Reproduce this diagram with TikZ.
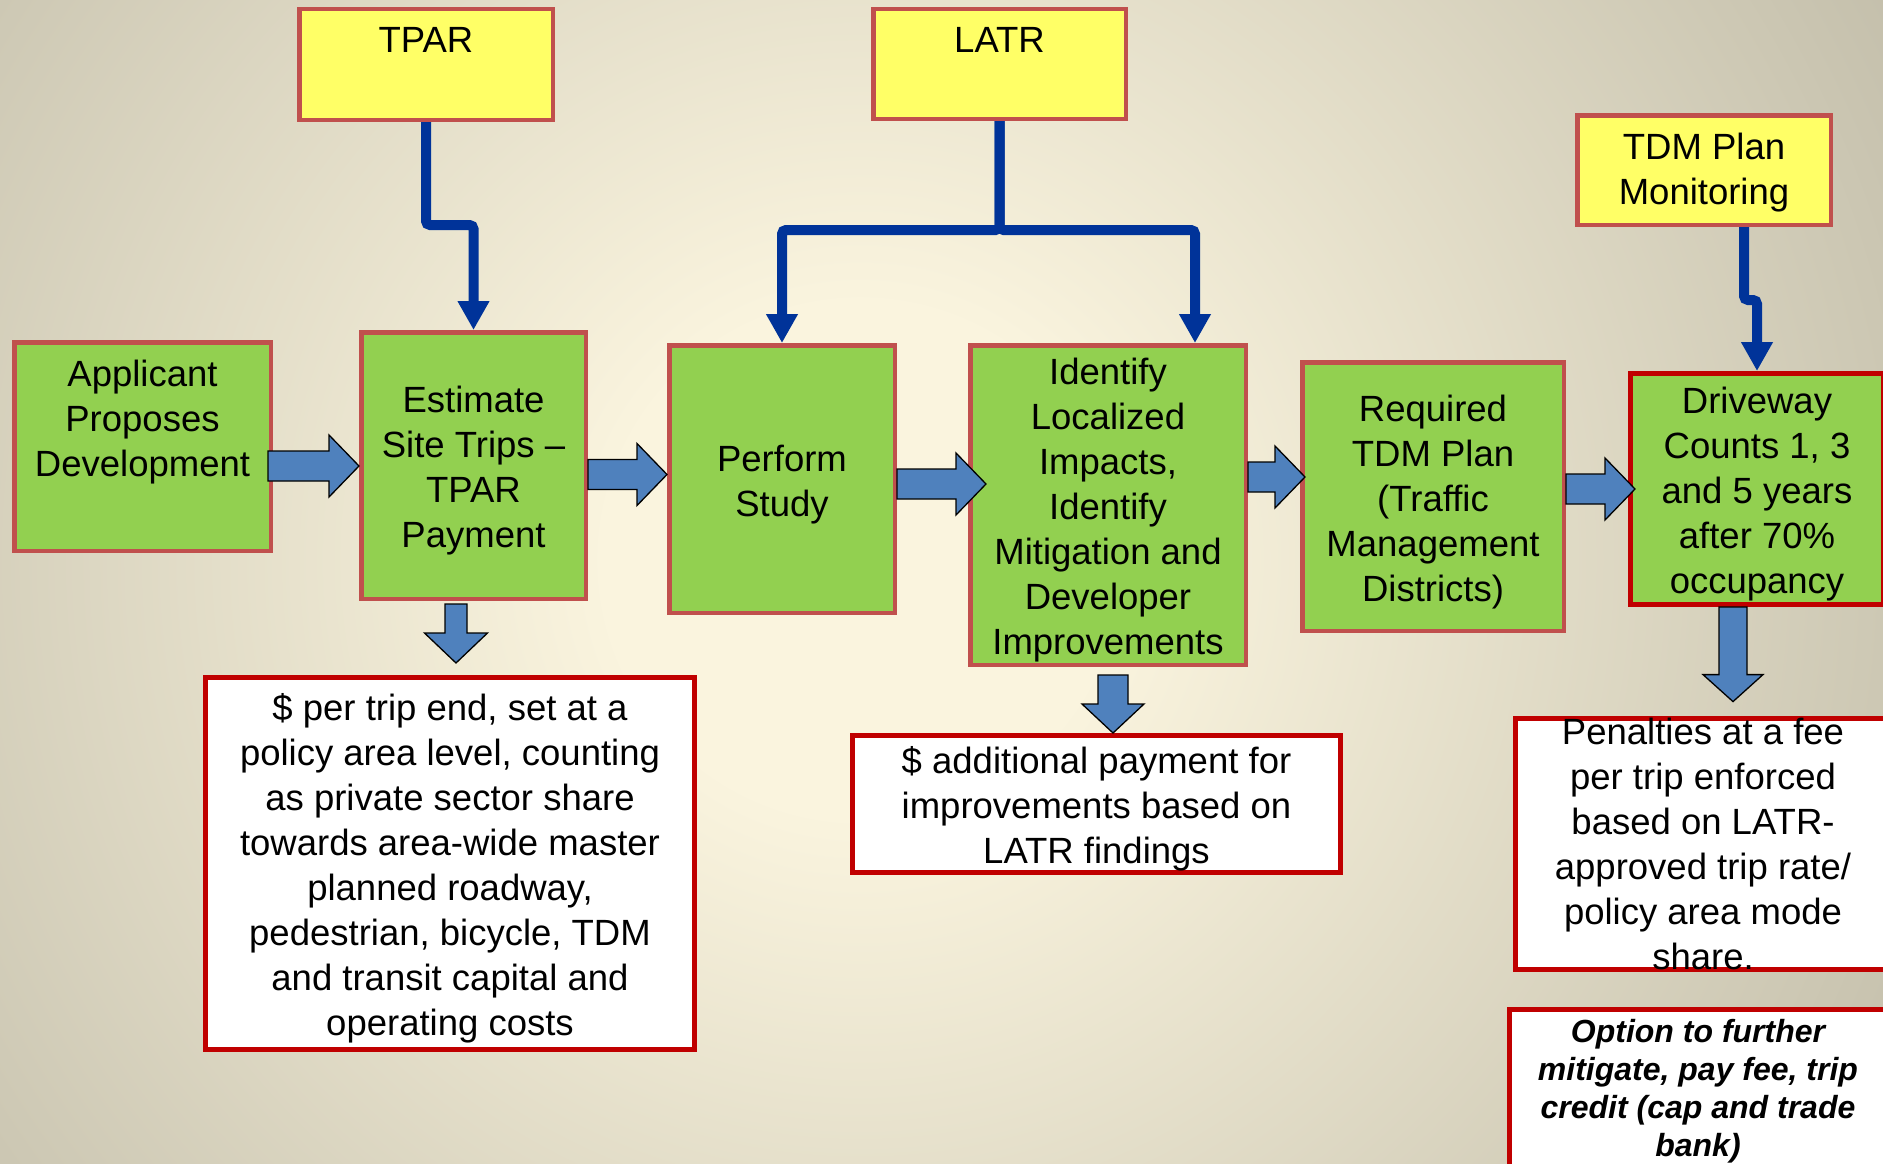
\documentclass[tikz,border=0pt]{standalone}
\usepackage{fontspec}
\setmainfont{Liberation Sans}
\usetikzlibrary{arrows.meta, calc}

\definecolor{boxgreen}{HTML}{92D050}
\definecolor{boxyellow}{HTML}{FFFF66}
\definecolor{boxedge}{HTML}{C0504D}
\definecolor{boxred}{HTML}{C00000}
\definecolor{flowblue}{HTML}{4F81BD}
\definecolor{linkblue}{HTML}{003399}
\definecolor{bgin}{HTML}{FAF4DE}
\definecolor{bgout}{HTML}{9C9886}

\pgfdeclareradialshading{backdrop}{\pgfpoint{0bp}{0bp}}{color(0bp)=(bgin); color(6bp)=(bgin); color(44bp)=(bgout); color(50bp)=(bgout)}

% taller first line, so the text sits a bit lower
\newcommand{\boxstrut}{\rule{0pt}{37pt}}
% fat block arrow to the right: from, to, tip shift x, shift y
\newcommand{\flowright}[4]{%
  \draw[fatflow] let \p1=(#1), \p2=([shift={(#3,#4)}]#2) in
    (\x1,{\y2+15pt}) -- ({\x2-30pt},{\y2+15pt}) -- ({\x2-30pt},{\y2+31pt}) -- (\x2,\y2)
    -- ({\x2-30pt},{\y2-31pt}) -- ({\x2-30pt},{\y2-15pt}) -- (\x1,{\y2-15pt}) -- cycle;}
% fat block arrow down: from, to, shaft half, head half, head length
\newcommand{\flowdown}[5]{%
  \draw[fatflow] let \p1=(#1), \p2=(#2) in
    ({\x2-#3pt},\y1) -- ({\x2+#3pt},\y1) -- ({\x2+#3pt},{\y2+#5pt}) -- ({\x2+#4pt},{\y2+#5pt})
    -- (\x2,\y2) -- ({\x2-#4pt},{\y2+#5pt}) -- ({\x2-#3pt},{\y2+#5pt}) -- cycle;}

\begin{document}
\begin{tikzpicture}[x=1pt, y=-1pt,
    box/.style={rectangle, draw, inner sep=0pt, align=center, text=black, font=\fontsize{36.5}{45}\selectfont},
    greenbox/.style={box, fill=boxgreen, draw=boxedge, line width=4.5pt},
    yellowbox/.style={box, fill=boxyellow, draw=boxedge, line width=4.5pt},
    notebox/.style={box, fill=white, draw=boxred, line width=5pt},
    link/.style={draw=linkblue, line width=10pt, rounded corners=4pt, -{Triangle[width=30pt, length=29pt]}},
    fatflow/.style={fill=flowblue, draw=black, line width=1.3pt, line join=miter}]
    \begin{scope}
        \clip (0,0) rectangle (1883,1164);
        \shade[shading=backdrop] (-200,-500) rectangle (1920,1620);
    \end{scope}
    \useasboundingbox (0,0) rectangle (1883,1164);

    % sources
    \node[yellowbox, minimum width=253.5pt, minimum height=110.5pt] (tpar) at (426,64.5) {TPAR\\[4pt]\mbox{}};
    \node[yellowbox, minimum width=252.5pt, minimum height=109.5pt] (latr) at (999.5,64) {LATR\\[4pt]\mbox{}};
    \node[yellowbox, minimum width=253.5pt, minimum height=109.5pt] (monitor) at (1704,170) {\rule{0pt}{31pt}TDM Plan\\Monitoring};

    % main row
    \node[greenbox, minimum width=256.5pt, minimum height=208.5pt] (apply) at (142.5,446.5) {Applicant\\Proposes\\Development\\[12pt]\mbox{}};
    \node[greenbox, minimum width=224.5pt, minimum height=266.5pt] (est) at (473.5,465.5) {\boxstrut Estimate\\Site Trips --\\TPAR\\Payment};
    \node[greenbox, minimum width=225.5pt, minimum height=267.5pt] (perform) at (782,479) {\boxstrut Perform\\Study};
    \node[greenbox, minimum width=275.5pt, minimum height=319.5pt] (ident) at (1108,505) {\boxstrut Identify\\Localized\\Impacts,\\Identify\\Mitigation and\\Developer\\Improvements};
    \node[greenbox, minimum width=261.5pt, minimum height=268.5pt] (tdmreq) at (1433,496.5) {\boxstrut Required\\TDM Plan\\(Traffic\\Management\\Districts)};
    \node[greenbox, draw=boxred, line width=5pt, minimum width=253pt, minimum height=231pt] (drive) at (1757,489) {\boxstrut Driveway\\Counts 1, 3\\and 5 years\\after 70\%\\occupancy};

    % outcomes
    \node[notebox, minimum width=489pt, minimum height=372pt] (tripfee) at (450,863.5) {\boxstrut\$ per trip end, set at a\\policy area level, counting\\as private sector share\\towards area-wide master\\planned roadway,\\pedestrian, bicycle, TDM\\and transit capital and\\operating costs};
    \node[notebox, minimum width=488pt, minimum height=137pt] (addpay) at (1096.5,804) {\boxstrut\$ additional payment for\\improvements based on\\LATR findings};
    \node[notebox, minimum width=375pt, minimum height=251pt] (penalty) at (1703,844) {Penalties at a fee\\per trip enforced\\based on LATR-\\approved trip rate/\\policy area mode\\share.};
    \node[notebox, minimum width=377pt, minimum height=163pt, font=\fontsize{32}{38}\selectfont\bfseries\itshape] (option) at (1698,1091) {Option to further\\mitigate, pay fee, trip\\credit (cap and trade\\bank)};

    % block arrows
    \flowright{[xshift=-5pt]apply.east}{est.west}{0}{0.5}
    \flowright{est.east}{perform.west}{0}{-4.5}
    \flowright{perform.east}{ident.west}{18}{-21}
    \flowright{ident.east}{tdmreq.west}{5}{-19.5}
    \flowright{tdmreq.east}{drive.west}{7}{0}
    \flowdown{[yshift=-3pt]est.south}{[shift={(6,-12)}]tripfee.north}{11}{31.5}{30}
    \flowdown{[yshift=-8pt]ident.south}{[shift={(16.5,0)}]addpay.north}{15}{31}{29}
    \flowdown{drive.south}{[shift={(30,-14)}]penalty.north}{14}{30}{27}

    % feeds
    \draw[link] (tpar.south) -- ++(0,103) -| (est.north);
    \draw[link] (latr.south) -- ++(0,109) -| (perform.north);
    \draw[link] (latr.south) -- ++(0,109) -| ([xshift=87pt]ident.north);
    \draw[link] ([xshift=40pt]monitor.south) -- ++(0,73) -| (drive.north);
\end{tikzpicture}
\end{document}
